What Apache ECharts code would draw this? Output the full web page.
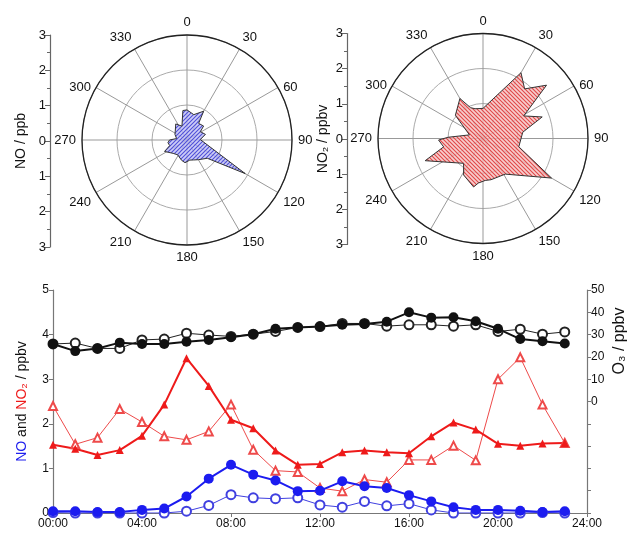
<!DOCTYPE html>
<html><head><meta charset="utf-8">
<script src="https://cdn.jsdelivr.net/npm/echarts@6/dist/echarts.min.js"></script>
<style>html,body{margin:0;padding:0;background:#fff}#c{width:635px;height:535px}</style>
</head><body><div id="c"></div>
<script>
// ---- Polar rose data (angle in degrees, value) ----
const noRoseAngles  = [0, 15, 30, 35, 50, 58, 73, 88, 120, 132, 150, 162, 172, 185, 195, 212, 226, 243, 252, 262, 270, 278, 295, 307, 325, 340, 352, 360];
const noRoseValues  = [0.86, 0.75, 0.95, 0.58, 0.62, 0.45, 0.55, 0.38, 1.92, 0.78, 0.65, 0.60, 0.58, 0.65, 0.60, 0.50, 0.55, 0.72, 0.52, 0.55, 0.50, 0.30, 0.38, 0.42, 0.56, 0.42, 0.85, 0.86];
const no2RoseAngles = [0, 30, 40, 50, 61, 70, 81, 103, 120, 148, 169, 177, 186, 191, 208, 218, 249, 258, 268, 272, 285, 310, 330, 338, 345, 360];
const no2RoseValues = [0.86, 2.17, 1.85, 2.37, 1.33, 1.80, 1.15, 1.05, 2.26, 1.20, 1.20, 1.20, 1.28, 1.41, 1.18, 0.90, 1.77, 1.15, 1.27, 1.00, 0.40, 1.03, 1.32, 0.95, 0.88, 0.86];

// ---- Diurnal data ----
const hours = [0,1,2,3,4,5,6,7,8,9,10,11,12,13,14,15,16,17,18,19,20,21,22,23];
const noA  = [0.04,0.04,0.02,0.02,0.07,0.10,0.37,0.77,1.08,0.86,0.73,0.49,0.50,0.71,0.60,0.56,0.40,0.26,0.13,0.07,0.07,0.05,0.02,0.04];
const noB  = [0.01,0.00,0.00,0.00,0.00,0.00,0.04,0.17,0.41,0.34,0.32,0.34,0.18,0.13,0.26,0.16,0.21,0.07,0.00,0.00,0.00,0.00,0.01,0.00];
const no2A = [1.53,1.44,1.30,1.41,1.73,2.43,3.47,2.85,2.09,1.90,1.40,1.08,1.10,1.36,1.40,1.36,1.34,1.72,2.03,1.87,1.55,1.51,1.56,1.57];
const no2B = [2.40,1.54,1.69,2.33,2.04,1.72,1.64,1.83,2.43,1.42,0.95,0.92,0.56,0.49,0.75,0.69,1.19,1.19,1.51,1.18,3.00,3.49,2.43,1.57];
const o3A  = [25.8,22.6,23.8,26.4,25.8,25.8,26.8,27.6,28.8,30.2,32.6,33.2,33.6,34.4,34.8,35.8,40.0,37.6,37.8,36.0,32.6,28.0,27.0,26.0];
const o3B  = [25.8,26.2,23.8,23.8,27.6,28.0,30.6,29.8,29.2,30.2,31.4,33.2,33.6,35.0,35.0,33.8,34.4,34.4,33.8,34.4,31.4,32.4,30.2,31.2];

const FONT = 'Liberation Sans, Arial, sans-serif';

function hatch(bg, fg, dir) {
  const s = 4, c = document.createElement('canvas');
  c.width = s; c.height = s;
  const g = c.getContext('2d');
  g.fillStyle = bg; g.fillRect(0, 0, s, s);
  g.strokeStyle = fg; g.lineWidth = 1.1;
  g.beginPath();
  if (dir > 0) {
    g.moveTo(0, s); g.lineTo(s, 0);
    g.moveTo(-1, 1); g.lineTo(1, -1);
    g.moveTo(s - 1, s + 1); g.lineTo(s + 1, s - 1);
  } else {
    g.moveTo(0, 0); g.lineTo(s, s);
    g.moveTo(-1, s - 1); g.lineTo(1, s + 1);
    g.moveTo(s - 1, -1); g.lineTo(s + 1, 1);
  }
  g.stroke();
  return { image: c, repeat: 'repeat' };
}

const pair = (rs, as) => rs.map((r, i) => [r, as[i]]);
const xy = (ys) => hours.map((h, i) => [h, ys[i]]);

const chart = echarts.init(document.getElementById('c'), null, { renderer: 'canvas' });

const angleAxisCfg = (i) => ({
  polarIndex: i, type: 'value', min: 0, max: 360, interval: 30,
  startAngle: 90, clockwise: true,
  axisLine: { lineStyle: { color: '#222', width: 1.3 } },
  axisTick: { show: false },
  axisLabel: { color: '#111', fontSize: 13, fontFamily: FONT, margin: 6,
    formatter: v => (v === 60 || v === 300) ? '{d|' + v + '}' : String(v),
    rich: { d: { fontSize: 13, fontFamily: FONT, color: '#111', padding: [0, 0, -9, 0] } } },
  splitLine: { lineStyle: { color: '#999', width: 1 } }
});
const radiusAxisCfg = (i) => ({
  polarIndex: i, type: 'value', min: 0, max: 3, interval: 1,
  axisLine: { show: false }, axisTick: { show: false }, axisLabel: { show: false },
  splitLine: { lineStyle: { color: '#aaa', width: 1 } }
});
const sideAxis = (g, name, gap) => ({
  gridIndex: g, type: 'value', min: -3, max: 3, interval: 1,
  axisLine: { show: true, lineStyle: { color: '#666', width: 1.2 } },
  axisTick: { show: true, length: 5, lineStyle: { color: '#666' } },
  minorTick: { show: true, splitNumber: 2, length: 3, lineStyle: { color: '#666' } },
  splitLine: { show: false },
  axisLabel: { color: '#111', fontSize: 13, fontFamily: FONT, margin: 4, formatter: v => String(Math.abs(v)) },
  name: name, nameLocation: 'middle', nameGap: gap, nameRotate: 90,
  nameTextStyle: { color: '#111', fontSize: 14, fontFamily: FONT }
});

const option = {
  animation: false,
  backgroundColor: '#fff',
  textStyle: { fontFamily: FONT },
  polar: [
    { center: [187, 140], radius: 105 },
    { center: [483, 138.5], radius: 105 }
  ],
  angleAxis: [angleAxisCfg(0), angleAxisCfg(1)],
  radiusAxis: [radiusAxisCfg(0), radiusAxisCfg(1)],
  grid: [
    { left: 50, top: 35, width: 1, height: 212 },
    { left: 347, top: 33.5, width: 1, height: 211 },
    { left: 53, right: 48, top: 290, bottom: 22 }
  ],
  xAxis: [
    { gridIndex: 0, type: 'value', show: false },
    { gridIndex: 1, type: 'value', show: false },
    { gridIndex: 2, type: 'value', min: 0, max: 24, interval: 4,
      axisLine: { lineStyle: { color: '#777', width: 1.2 } },
      axisTick: { length: 4, lineStyle: { color: '#777' } },
      splitLine: { show: false },
      axisLabel: { color: '#111', fontSize: 12, fontFamily: FONT, margin: 5,
        formatter: v => (v < 10 ? '0' + v : v) + ':00' } }
  ],
  yAxis: [
    sideAxis(0, 'NO / ppb', 22),
    sideAxis(1, 'NO₂ / ppbv', 17),
    { gridIndex: 2, type: 'value', min: 0, max: 5, interval: 1,
      axisLine: { show: true, lineStyle: { color: '#777', width: 1.2 } },
      axisTick: { show: true, length: 4, lineStyle: { color: '#777' } },
      splitLine: { show: false },
      axisLabel: { color: '#111', fontSize: 12, fontFamily: FONT, margin: 4 },
      name: '{b|NO}{k| and }{r|NO₂}{k| / ppbv}', nameLocation: 'middle', nameGap: 24, nameRotate: 90,
      nameTextStyle: { fontSize: 14, fontFamily: FONT,
        rich: { b: { color: '#2020ee', fontSize: 14, fontFamily: FONT },
                r: { color: '#ee1a1a', fontSize: 14, fontFamily: FONT },
                k: { color: '#111', fontSize: 14, fontFamily: FONT } } } },
    { gridIndex: 2, type: 'value', position: 'right', min: -50, max: 50, interval: 10,
      axisLine: { show: true, lineStyle: { color: '#777', width: 1.2 } },
      axisTick: { show: true, length: 4, lineStyle: { color: '#777' } },
      splitLine: { show: false },
      axisLabel: { color: '#111', fontSize: 12, fontFamily: FONT, margin: 4,
        formatter: v => (v >= 0 ? String(v) : '') } }
  ],
  graphic: [
    { type: 'text', x: 620, y: 341, rotation: Math.PI / 2,
      style: { text: 'O₃ / ppbv', fontSize: 16, fontFamily: FONT, fill: '#111', align: 'center', verticalAlign: 'middle' } }
  ],
  series: [
    { type: 'line', coordinateSystem: 'polar', polarIndex: 0, showSymbol: false, silent: true,
      data: pair(noRoseValues, noRoseAngles),
      lineStyle: { color: '#333', width: 1 },
      areaStyle: { color: hatch('rgba(190,190,245,0.75)', '#5050d8', 1), opacity: 1 } },
    { type: 'line', coordinateSystem: 'polar', polarIndex: 1, showSymbol: false, silent: true,
      data: pair(no2RoseValues, no2RoseAngles),
      lineStyle: { color: '#333', width: 1 },
      areaStyle: { color: hatch('rgba(245,190,190,0.75)', '#e04848', -1), opacity: 1 } },

    { name: 'O3 b', type: 'line', xAxisIndex: 2, yAxisIndex: 3, data: xy(o3B),
      symbol: 'emptyCircle', symbolSize: 9, lineStyle: { color: '#222', width: 1 },
      itemStyle: { color: '#222', borderWidth: 1 } },
    { name: 'O3 a', type: 'line', xAxisIndex: 2, yAxisIndex: 3, data: xy(o3A),
      symbol: 'circle', symbolSize: 10, lineStyle: { color: '#111', width: 2 },
      itemStyle: { color: '#111' } },
    { name: 'NO2 b', type: 'line', xAxisIndex: 2, yAxisIndex: 2, data: xy(no2B),
      symbol: 'emptyTriangle', symbolSize: 8, lineStyle: { color: '#ee4a4a', width: 1 },
      itemStyle: { color: '#ee4a4a', borderWidth: 1 } },
    { name: 'NO2 a', type: 'line', xAxisIndex: 2, yAxisIndex: 2, data: xy(no2A),
      symbol: 'triangle', symbolSize: 8, lineStyle: { color: '#ee1a1a', width: 2 },
      itemStyle: { color: '#ee1a1a' } },
    { name: 'NO b', type: 'line', xAxisIndex: 2, yAxisIndex: 2, data: xy(noB),
      symbol: 'emptyCircle', symbolSize: 9, lineStyle: { color: '#4040e0', width: 1 },
      itemStyle: { color: '#4040e0', borderWidth: 1 } },
    { name: 'NO a', type: 'line', xAxisIndex: 2, yAxisIndex: 2, data: xy(noA),
      symbol: 'circle', symbolSize: 10, lineStyle: { color: '#1c1cf0', width: 2 },
      itemStyle: { color: '#1c1cf0' } }
  ]
};
chart.setOption(option);
</script>
</body></html>
